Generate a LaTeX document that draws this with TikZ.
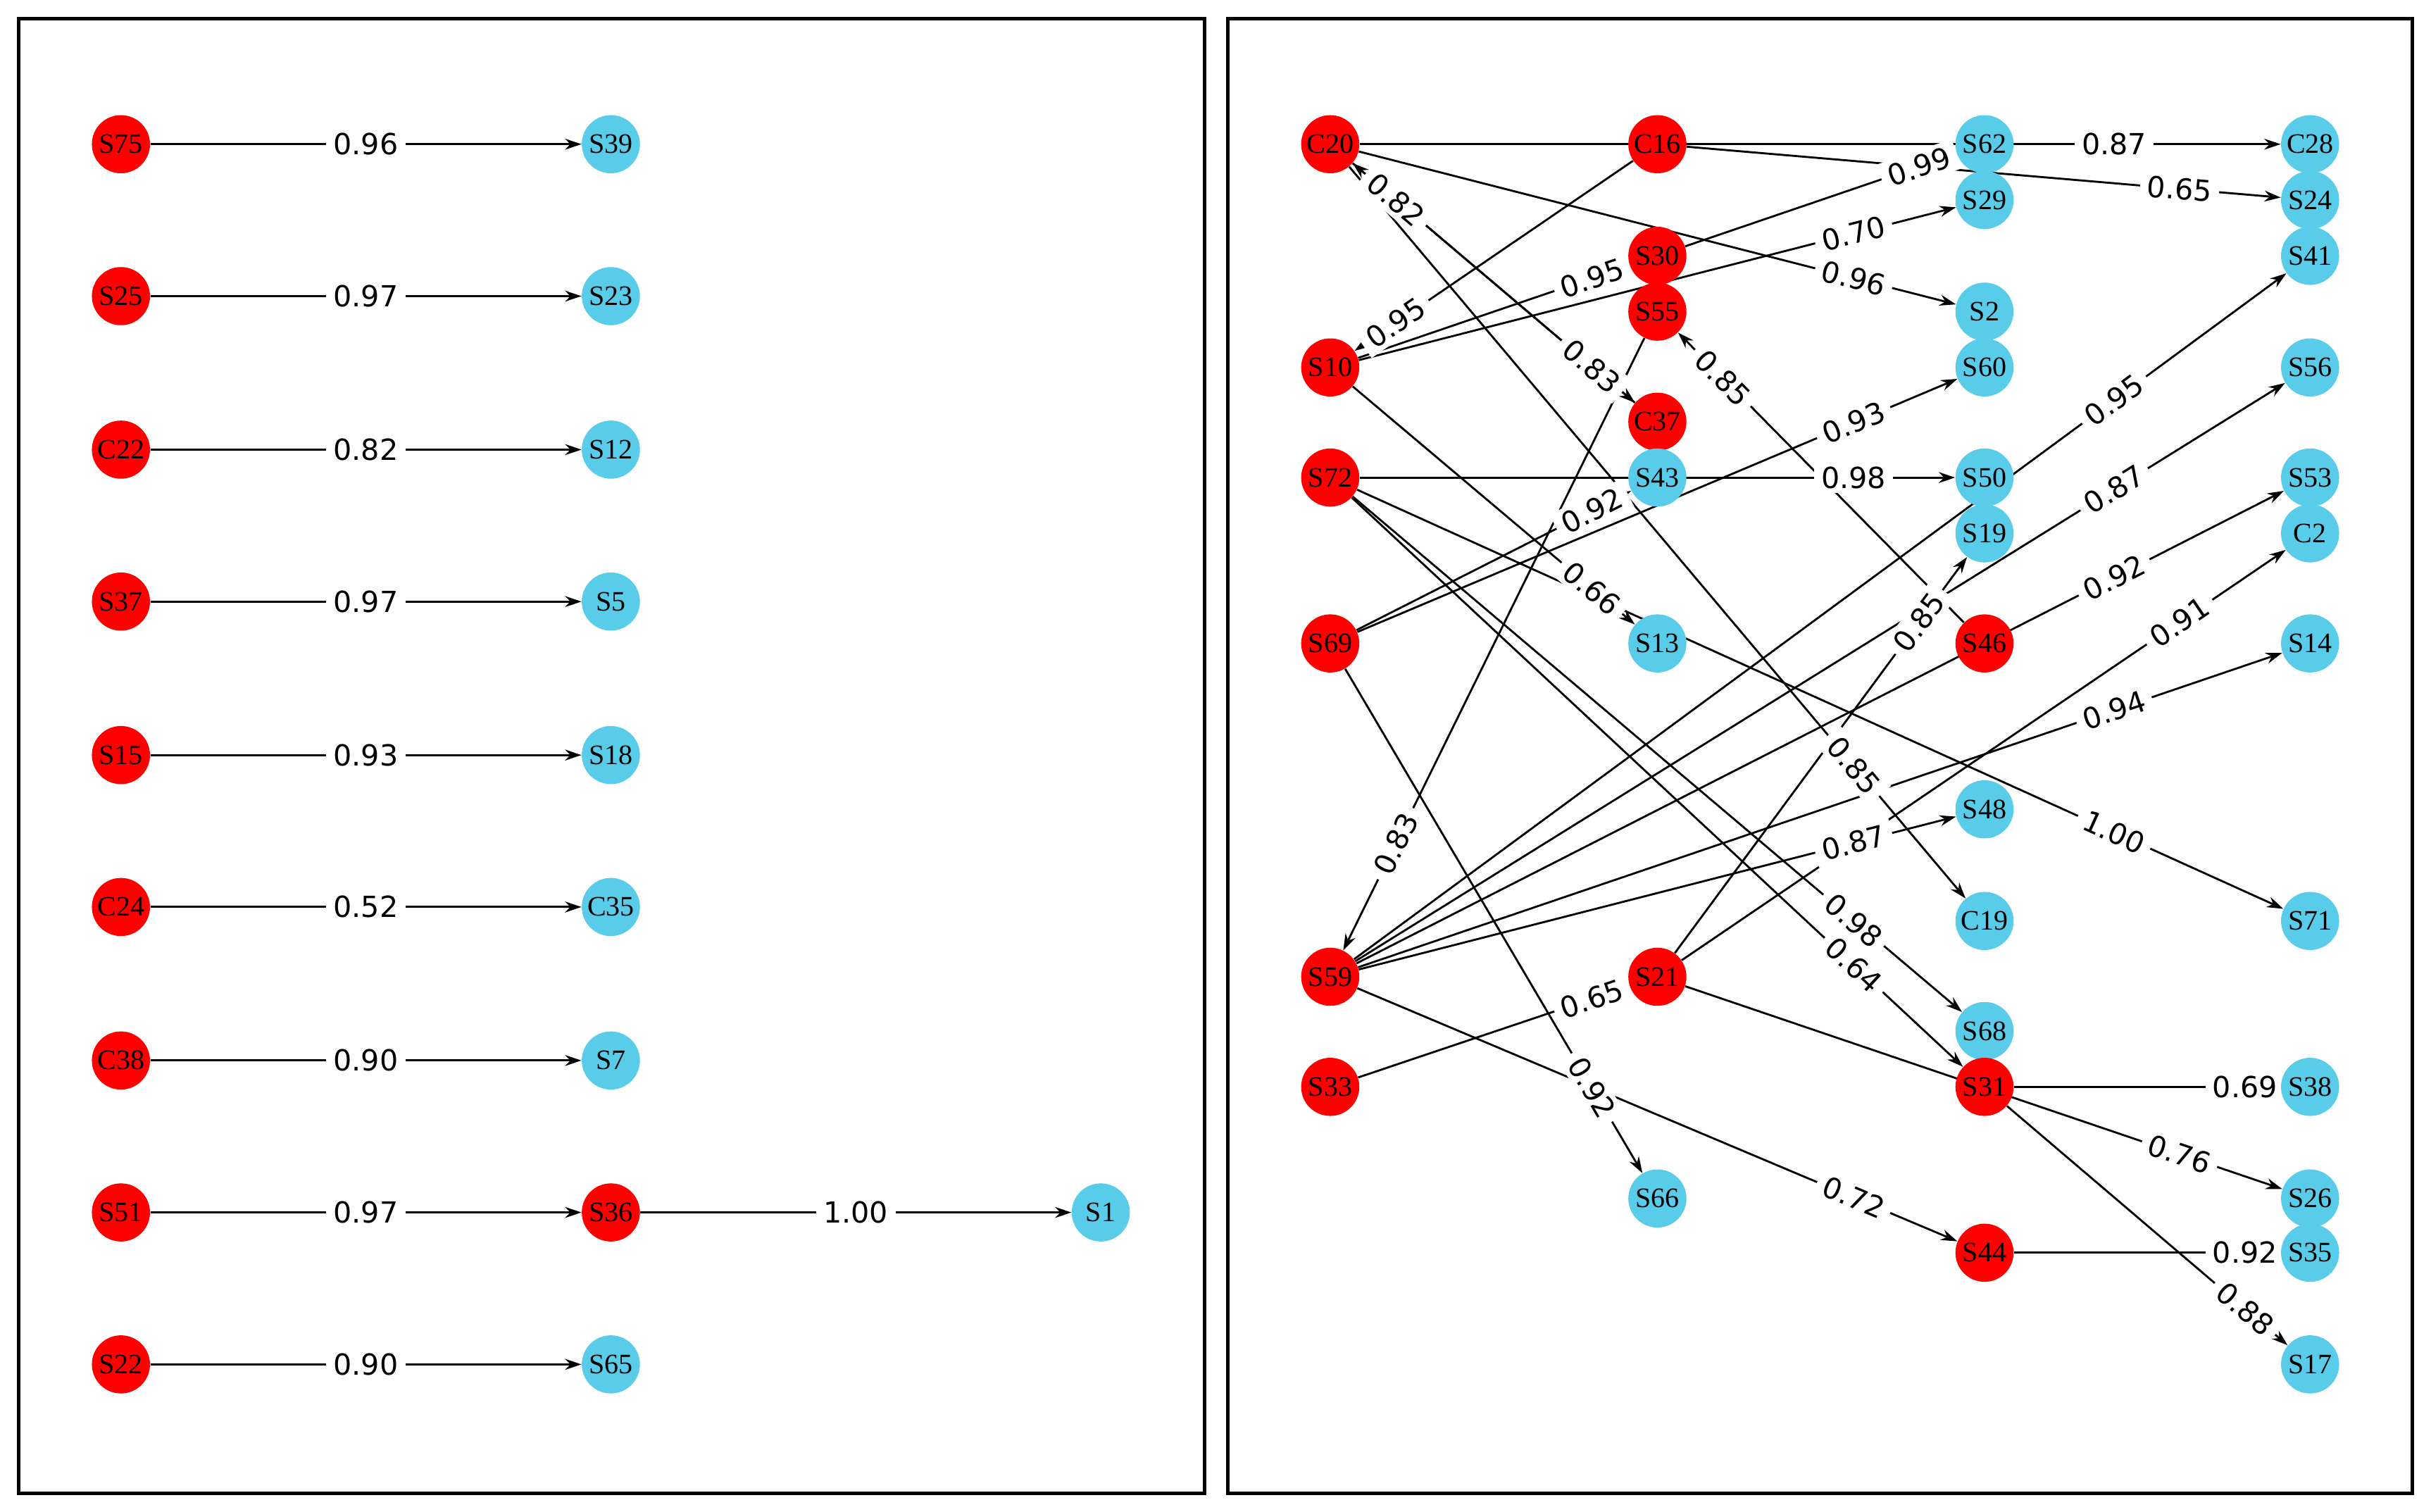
\documentclass[tikz,border=0pt]{standalone}
\usepackage{fontspec}
\setmainfont{Liberation Serif}
\newfontfamily\labfont{DejaVu Sans}
\usetikzlibrary{arrows.meta}
\pgfdeclarelayer{bg}\pgfdeclarelayer{lbl}
\pgfsetlayers{bg,lbl,main}
\definecolor{nred}{RGB}{255,0,0}
\definecolor{nblue}{RGB}{88,204,232}
\tikzset{
 nd/.style={circle,minimum size=32,inner sep=0pt,font=\fontsize{15.5}{15.5}\selectfont},
 r/.style={nd,fill=nred},
 b/.style={nd,fill=nblue},
 edge/.style={line width=1.1pt,-{Stealth[length=9pt,width=6pt]}},
 lab/.style={fill=white,inner xsep=4pt,inner ysep=2.5pt,font=\labfont\fontsize{16}{16}\selectfont},
 frame/.style={line width=2pt}
}
\newcommand\myedge[4]{%
 \begin{pgfonlayer}{bg}\draw[edge] (#1)--(#2);\end{pgfonlayer}%
 \begin{pgfonlayer}{lbl}\path (#1.center)--(#2.center) node[lab,pos=#4,sloped]{#3};\end{pgfonlayer}}
\begin{document}
\begin{tikzpicture}[x=0.03cm,y=-0.03cm]
\useasboundingbox (0,0) rectangle (1568,975);
\draw[frame] (12,12) rectangle (777,963);
\draw[frame] (792,12) rectangle (1556,963);
% left panel
\node[r] (S75) at (78,93) {S75}; \node[b] (S39) at (394,93) {S39};
\node[r] (S25) at (78,191) {S25}; \node[b] (S23) at (394,191) {S23};
\node[r] (C22) at (78,290) {C22}; \node[b] (S12) at (394,290) {S12};
\node[r] (S37) at (78,388) {S37}; \node[b] (S5) at (394,388) {S5};
\node[r] (S15) at (78,487) {S15}; \node[b] (S18) at (394,487) {S18};
\node[r] (C24) at (78,585) {C24}; \node[b] (C35) at (394,585) {C35};
\node[r] (C38) at (78,684) {C38}; \node[b] (S7) at (394,684) {S7};
\node[r] (S51) at (78,782) {S51}; \node[r] (S36) at (394,782) {S36}; \node[b] (S1) at (710,782) {S1};
\node[r] (S22) at (78,880) {S22}; \node[b] (S65) at (394,880) {S65};
\myedge{S75}{S39}{0.96}{0.5}
\myedge{S25}{S23}{0.97}{0.5}
\myedge{C22}{S12}{0.82}{0.5}
\myedge{S37}{S5}{0.97}{0.5}
\myedge{S15}{S18}{0.93}{0.5}
\myedge{C24}{C35}{0.52}{0.5}
\myedge{C38}{S7}{0.90}{0.5}
\myedge{S51}{S36}{0.97}{0.5}
\myedge{S36}{S1}{1.00}{0.5}
\myedge{S22}{S65}{0.90}{0.5}
% right panel nodes
\node[r] (C20) at (858,93) {C20};
\node[r] (S10) at (858,237) {S10};
\node[r] (S72) at (858,308) {S72};
\node[r] (S69) at (858,415) {S69};
\node[r] (S59) at (858,630) {S59};
\node[r] (S33) at (858,701) {S33};
\node[r] (C16) at (1069,93) {C16};
\node[r] (S30) at (1069,165) {S30};
\node[r] (S55) at (1069,201) {S55};
\node[r] (C37) at (1069,272) {C37};
\node[b] (S43) at (1069,308) {S43};
\node[b] (S13) at (1069,415) {S13};
\node[r] (S21) at (1069,630) {S21};
\node[b] (S66) at (1069,773) {S66};
\node[b] (S62) at (1280,93) {S62};
\node[b] (S29) at (1280,129) {S29};
\node[b] (S2) at (1280,201) {S2};
\node[b] (S60) at (1280,237) {S60};
\node[b] (S50) at (1280,308) {S50};
\node[b] (S19) at (1280,344) {S19};
\node[r] (S46) at (1280,415) {S46};
\node[b] (S48) at (1280,522) {S48};
\node[b] (C19) at (1280,594) {C19};
\node[b] (S68) at (1280,665) {S68};
\node[r] (S31) at (1280,701) {S31};
\node[r] (S44) at (1280,808) {S44};
\node[b] (C28) at (1490,93) {C28};
\node[b] (S24) at (1490,129) {S24};
\node[b] (S41) at (1490,165) {S41};
\node[b] (S56) at (1490,237) {S56};
\node[b] (S53) at (1490,308) {S53};
\node[b] (C2) at (1490,344) {C2};
\node[b] (S14) at (1490,415) {S14};
\node[b] (S71) at (1490,594) {S71};
\node[b] (S38) at (1490,701) {S38};
\node[b] (S26) at (1490,773) {S26};
\node[b] (S35) at (1490,808) {S35};
\node[b] (S17) at (1490,880) {S17};
% right panel edges
\myedge{C20}{C28}{0.87}{0.8}
\myedge{S30}{S62}{0.99}{0.8}
\myedge{C16}{S24}{0.65}{0.8}
\myedge{C16}{S10}{0.95}{0.8}
\myedge{S10}{S30}{0.95}{0.8}
\myedge{S10}{S29}{0.70}{0.8}
\myedge{C20}{S2}{0.96}{0.8}
\myedge{C20}{C37}{0.83}{0.8}
\myedge{C37}{C20}{0.82}{0.8}
\myedge{C20}{C19}{0.85}{0.8}
\myedge{S46}{S55}{0.85}{0.8}
\myedge{S55}{S59}{0.83}{0.8}
\myedge{S69}{S60}{0.93}{0.8}
\myedge{S69}{S43}{0.92}{0.8}
\myedge{S72}{S50}{0.98}{0.8}
\myedge{S10}{S13}{0.66}{0.8}
\myedge{S72}{S71}{1.00}{0.8}
\myedge{S72}{S68}{0.98}{0.8}
\myedge{S72}{S31}{0.64}{0.8}
\myedge{S59}{S41}{0.95}{0.8}
\myedge{S59}{S56}{0.87}{0.8}
\myedge{S59}{S53}{0.92}{0.8}
\myedge{S21}{S19}{0.85}{0.8}
\myedge{S21}{C2}{0.91}{0.8}
\myedge{S59}{S14}{0.94}{0.8}
\myedge{S59}{S48}{0.87}{0.8}
\myedge{S33}{S21}{0.65}{0.8}
\myedge{S21}{S26}{0.76}{0.8}
\myedge{S31}{S38}{0.69}{0.8}
\myedge{S31}{S17}{0.88}{0.8}
\myedge{S69}{S66}{0.92}{0.8}
\myedge{S59}{S44}{0.72}{0.8}
\myedge{S44}{S35}{0.92}{0.8}
\end{tikzpicture}
\end{document}
